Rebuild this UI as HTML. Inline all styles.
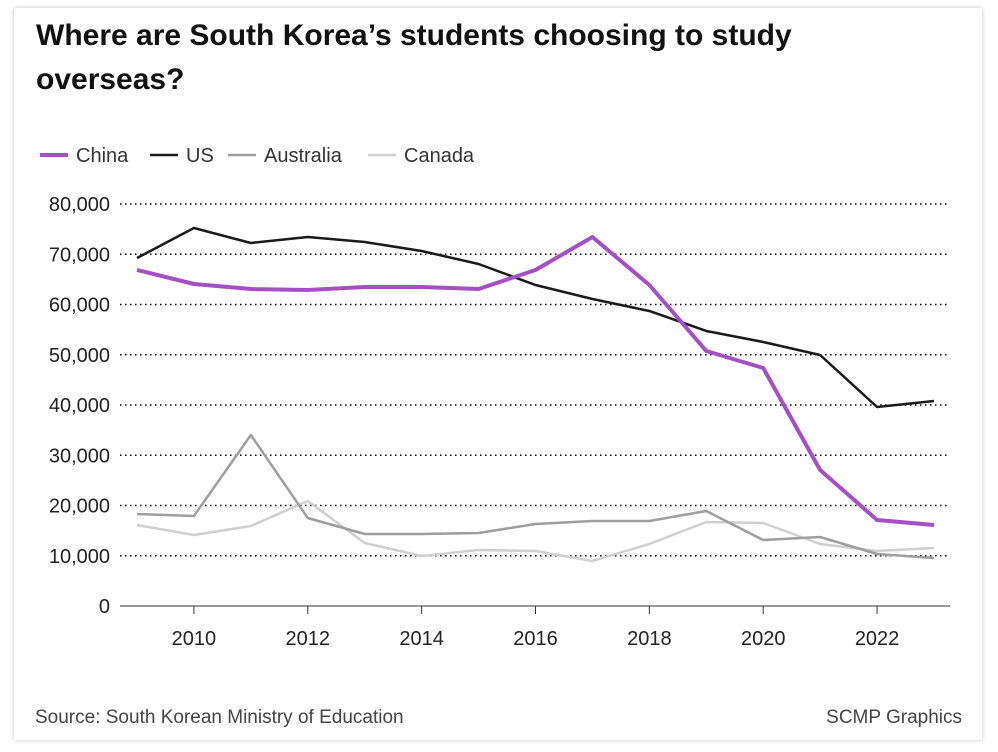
<!DOCTYPE html>
<html><head><meta charset="utf-8">
<style>
body{margin:0;background:#fff;font-family:"Liberation Sans",sans-serif;}
#card{position:absolute;left:14px;top:8px;width:968px;height:732px;background:#fff;box-shadow:0 0 4px rgba(0,0,0,0.25);}
h1{position:absolute;left:36px;top:14px;margin:0;font-size:30px;line-height:44px;font-weight:bold;color:#111;width:830px;}
.foot{position:absolute;top:707px;font-size:19px;color:#444;}
</style></head><body>
<div id="card"></div>
<h1>Where are South Korea’s students choosing to study overseas?</h1>
<svg id="chart" width="998" height="752" style="position:absolute;left:0;top:0"></svg>
<div class="foot" style="left:35px">Source: South Korean Ministry of Education</div>
<div class="foot" style="right:36px">SCMP Graphics</div>
<script>
const years=[2009,2010,2011,2012,2013,2014,2015,2016,2017,2018,2019,2020,2021,2022,2023];
const china=[66870,64080,63080,62890,63480,63480,63080,66870,73430,63880,50750,47360,27060,17110,16120];
const us=[69250,75220,72240,73430,72440,70650,68060,63880,61090,58710,54730,52540,49950,39600,40800];
const australia=[18310,17910,34030,17510,14330,14330,14530,16320,16920,16920,18910,13130,13730,10350,9550];
const canada=[16120,14130,15920,20900,12540,9950,11140,10950,8960,12340,16720,16520,12340,10950,11540];
const yTicks=[0,10000,20000,30000,40000,50000,60000,70000,80000];
const xTicks=[2010,2012,2014,2016,2018,2020,2022];
const seriesNames=["China","US","Australia","Canada"];
const seriesColors=["#a64fc4","#1a1a1a","#9e9e9e","#cfcfcf"];
const seriesWidths=[4,2.5,2.5,2.5];
const legendX=[40,150,228,368];
const NS="http://www.w3.org/2000/svg";
const svg=document.getElementById('chart');
const x=v=>137+(v-2009)*(934-137)/14;
const y=v=>606-v*(402/80000);
function mk(t,a){const e=document.createElementNS(NS,t);for(const k in a)e.setAttribute(k,a[k]);svg.appendChild(e);return e;}
yTicks.forEach(t=>{
  if(t>0){const g=mk('line',{x1:120,x2:950,y1:y(t),y2:y(t),stroke:'#000','stroke-width':1.5,'stroke-dasharray':'1.5,3.5'});
  
  }
  const l=mk('text',{x:110,y:y(t)+7,'text-anchor':'end','font-size':20,fill:'#222','font-family':'Liberation Sans'});
  l.textContent=t.toLocaleString('en-US');
  
  
});
const ax=mk('line',{x1:120,x2:950,y1:606,y2:606,stroke:'#333','stroke-width':1});


xTicks.forEach(t=>{
  const tk=mk('line',{x1:x(t),x2:x(t),y1:606,y2:614,stroke:'#333','stroke-width':1});
  
  
  const l=mk('text',{x:x(t),y:645,'text-anchor':'middle','font-size':20,fill:'#222','font-family':'Liberation Sans'});
  l.textContent=t;
  
  
});
const data=[china,us,australia,canada];
for(let i=3;i>=0;i--){
  const d=data[i].map((v,j)=>(j?'L':'M')+x(years[j])+','+y(v)).join('');
  const p=mk('path',{d:d,fill:'none',stroke:seriesColors[i],'stroke-width':seriesWidths[i],'stroke-linejoin':'round'});
  
  
}
seriesNames.forEach((n,i)=>{
  const lx=legendX[i];
  const ln=mk('line',{x1:lx,x2:lx+28,y1:155,y2:155,stroke:seriesColors[i],'stroke-width':seriesWidths[i]});
  
  
  const t=mk('text',{x:lx+36,y:162,'font-size':20,fill:'#333','font-family':'Liberation Sans'});
  t.textContent=n;
  
  
});
</script>
</body></html>
